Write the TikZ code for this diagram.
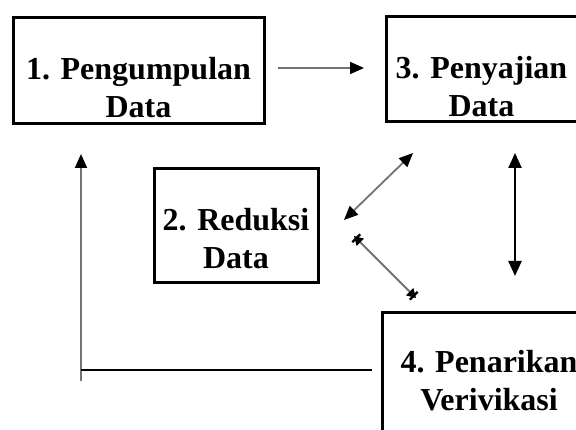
\documentclass[tikz,border=0pt]{standalone}
\usepackage{fontspec}
\setmainfont{Liberation Serif}
\usetikzlibrary{arrows.meta}
\tikzset{
  box/.style={draw=black, line width=3pt, rectangle, inner sep=0pt, outer sep=0pt},
  lbl/.style={align=center, inner sep=0pt, font=\fontsize{32}{38}\selectfont\bfseries},
  thinarrow/.style={draw=black!55, line width=1.8pt},
  tri/.tip={Triangle[length=14pt,width=12pt,color=black]},
  bigtri/.tip={Triangle[length=15pt,width=13pt,color=black]},
  xtri/.tip={Bar[width=11pt,line width=2.4pt,color=black,sep=-7pt] Triangle[length=9pt,width=10pt,color=black]}
}
\begin{document}
\begin{tikzpicture}[x=1pt,y=-1pt]
\clip (0,0) rectangle (576,430);
\fill[white] (0,0) rectangle (576,430);
% boxes
\node[box, minimum width=251, minimum height=106] (b1) at (138.5,71) {};
\node[box, minimum width=214, minimum height=105] (b3) at (493,69.5) {};
\node[box, minimum width=164, minimum height=114] (b2) at (236,226) {};
\node[box, minimum width=218, minimum height=137] (b4) at (491,381.5) {};
% labels
\node[lbl] (t1) at (138.5,88) {1. Pengumpulan\\Data};
\node[lbl] (t3) at (481.5,87) {3. Penyajian\\Data};
\node[lbl] (t2) at (236,239) {2. Reduksi\\Data};
\node[lbl] (t4) at (489,381) {4. Penarikan\\Verivikasi};
% connector end points
\coordinate (a13s) at (278,68);
\coordinate (a13e) at (364,68);
\coordinate (d1a) at (413,153);
\coordinate (d1b) at (344,220);
\coordinate (d2a) at (354,236);
\coordinate (d2b) at (416,298);
\coordinate (v3a) at (515,153);
\coordinate (v3b) at (515,276);
\coordinate (lup) at (81,154);
\coordinate (lbot) at (81,381);
\coordinate (corner) at (81,370);
\coordinate (hend) at (372,370);
% connectors
\draw[thinarrow, -tri] (a13s) -- (a13e);
\draw[thinarrow, tri-tri] (d1b) -- (d1a);
\draw[thinarrow, xtri-xtri] (d2a) -- (d2b);
\draw[line width=2.4pt, bigtri-bigtri] (v3a) -- (v3b);
\draw[thinarrow, -tri] (lbot) -- (lup);
\draw[line width=2.4pt] (corner) -- (hend);
\end{tikzpicture}
\end{document}
